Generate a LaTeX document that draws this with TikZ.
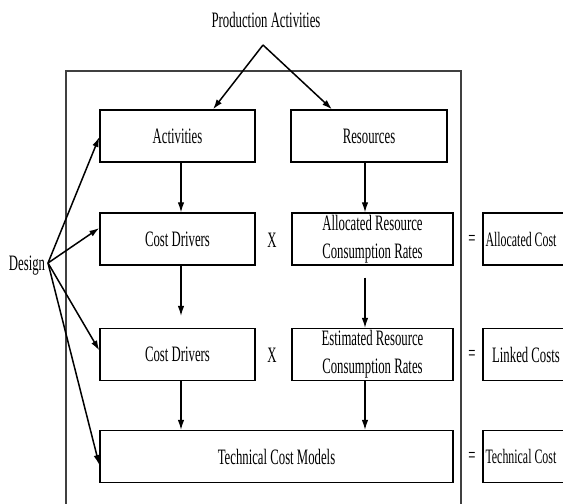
\documentclass[tikz,border=0pt]{standalone}
\usepackage{fontspec}
\setmainfont{Liberation Serif}[FakeStretch=0.58]
\usetikzlibrary{arrows.meta}
\begin{document}
\begin{tikzpicture}[x=1pt,y=-1pt,
  font=\fontsize{22}{28}\selectfont,
  box/.style={draw=black,line width=1.4pt,minimum width=#1,minimum height=52pt,inner sep=0pt,align=center},
  arr/.style={-{Latex[length=10pt,width=6.5pt]},line width=1.1pt},
  darr/.style={arr,line width=1.5pt},
  lbl/.style={inner sep=0pt}]
\useasboundingbox (0,0) rectangle (563,504);
\clip (0,0) rectangle (563,504);
% frame
\draw[line width=1.4pt,draw=black!75] (66,71) rectangle (461,530);
% labels
\node[lbl] (prod) at (266,20) {Production Activities};
\coordinate (apex) at (263,45);
\node[lbl] (design) at (27,266) {Design};
\coordinate (dO) at (48,263);
% boxes
\node[box=155pt] (act) at (177.5,136) {Activities};
\node[box=156pt] (res) at (369,136) {Resources};
\node[box=155pt] (cd1) at (177.5,239) {Cost Drivers};
\node[box=161pt] (alc) at (372.5,239) {Allocated Resource\\Consumption Rates};
\node[box=155pt] (cd2) at (177.5,354.5) {Cost Drivers};
\node[box=161pt] (est) at (372.5,354.5) {Estimated Resource\\Consumption Rates};
\node[box=353pt] (tcm) at (276.5,456.5) {Technical Cost Models};
\node[box=86pt] (ac) at (526,239) {};
\node[box=86pt] (lc) at (526,354.5) {Linked Costs};
\node[box=86pt] (tc) at (526,456.5) {};
\node[lbl,anchor=west,font=\fontsize{20.5}{26}\selectfont] (act2) at ([xshift=3pt]ac.west) {Allocated Cost};
\node[lbl,anchor=west,font=\fontsize{20.5}{26}\selectfont] (tct) at ([xshift=3pt]tc.west) {Technical Cost};
% operators
\node[lbl] (x1) at (272,240) {X};
\node[lbl] (x2) at (272,355) {X};
\node[lbl] (e1) at (472,240) {=};
\node[lbl] (e2) at (472,355) {=};
\node[lbl] (e3) at (472,457) {=};
% column coordinates
\coordinate (ca) at (181,0);
\coordinate (cb) at (365,0);
\coordinate (pa) at (213,0);
\coordinate (pb) at (332,0);
% production arrows
\draw[darr] (apex) -- (act.north -| pa);
\draw[darr] (apex) -- (res.north -| pb);
% vertical arrows
\draw[arr] (act.south -| ca) -- (cd1.north -| ca);
\draw[arr] (res.south -| cb) -- (alc.north -| cb);
\draw[arr,shorten >=12pt] (cd1.south -| ca) -- (cd2.north -| ca);
\draw[arr,shorten <=12pt] (alc.south -| cb) -- (est.north -| cb);
\draw[arr] (cd2.south -| ca) -- (tcm.north -| ca);
\draw[arr] (est.south -| cb) -- (tcm.north -| cb);
% design arrows
\draw[darr] (dO) -- ([yshift=-1pt]act.west);
\draw[darr] (dO) -- ([yshift=11pt]cd1.west);
\draw[darr] (dO) -- ([yshift=4pt]cd2.west);
\draw[darr] (dO) -- ([yshift=-8.5pt]tcm.west);
\end{tikzpicture}
\end{document}
